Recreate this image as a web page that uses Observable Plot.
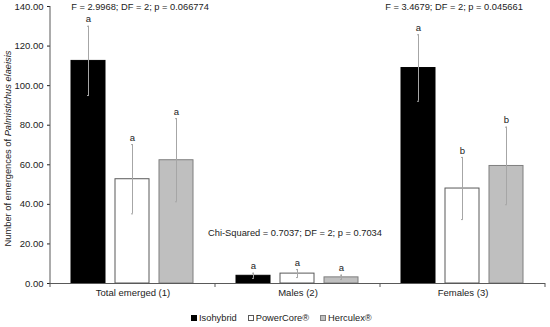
<!DOCTYPE html>
<html>
<head>
<meta charset="utf-8">
<script src="https://cdn.jsdelivr.net/npm/d3@7"></script>
<script src="https://cdn.jsdelivr.net/npm/@observablehq/plot@0.6"></script>
<style>
  body { margin: 0; background: #fff; font-family: "Liberation Sans", Arial, sans-serif; }
  #wrap { position: relative; width: 550px; height: 327px; }
  #legend { position: absolute; left: 191px; top: 313px; font-size: 9.3px; color: #222; display: flex; gap: 11px; align-items: center; }
  #legend span.sw { display: inline-block; width: 4px; height: 4px; border: 1px solid #595959; margin-right: 2px; vertical-align: middle; position: relative; top: -1px; }
</style>
</head>
<body>
<div id="wrap"><div id="chart"></div><div id="legend"></div></div>
<script>
const groups = ["Total emerged (1)", "Males (2)", "Females (3)"];
const varieties = ["Isohybrid", "PowerCore®", "Herculex®"];
const isohybridMean = [112.5, 3.9, 108.9];
const powercoreMean = [52.7, 5.0, 48.0];
const herculexMean = [62.3, 3.1, 59.4];
const isohybridErr = [17.5, 1.3, 16.8];
const powercoreErr = [17.5, 2.0, 15.7];
const herculexErr = [21.0, 1.1, 19.6];
const isohybridLetters = ["a", "a", "a"];
const powercoreLetters = ["a", "a", "b"];
const herculexLetters = ["a", "a", "b"];
const statGroups = ["Total emerged (1)", "Males (2)", "Females (3)"];
const statTexts = ["F = 2.9968; DF = 2; p = 0.066774", "Chi-Squared = 0.7037; DF = 2; p = 0.7034", "F = 3.4679; DF = 2; p = 0.045661"];
const statY = [139.7, 25.4, 139.7];
const statDx = [7.5, -2.5, -8.5];
const yTicks = [0, 20, 40, 60, 80, 100, 120, 140];
const fills = ["#000000", "#ffffff", "#bfbfbf"];
const strokes = ["#000000", "#595959", "#7f7f7f"];

const meansBy = [isohybridMean, powercoreMean, herculexMean];
const errsBy = [isohybridErr, powercoreErr, herculexErr];
const lettersBy = [isohybridLetters, powercoreLetters, herculexLetters];
const data = [];
groups.forEach((g, gi) => varieties.forEach((v, vi) => {
  const m = meansBy[vi][gi], e = errsBy[vi][gi];
  data.push({group: g, variety: v, mean: m, lo: m - e, hi: m + e, letter: lettersBy[vi][gi]});
}));
const stats = statGroups.map((g, i) => ({group: g, text: statTexts[i], y: statY[i], mid: varieties[1]}));

const barMarks = varieties.map((v, vi) => Plot.barY(data.filter(d => d.variety === v), {
  fx: "group", x: "variety", y: "mean", fill: fills[vi], stroke: strokes[vi], strokeWidth: 1
}));
const statMarks = stats.map((s, i) => Plot.text([s], {
  fx: "group", x: "mid", y: "y", text: "text", dx: statDx[i], fontSize: 9.3, fill: "#222"
}));

const plot = Plot.plot({
  width: 550,
  height: 305,
  marginLeft: 50,
  marginRight: 5,
  marginTop: 6,
  marginBottom: 22,
  style: {fontFamily: "'Liberation Sans', Arial, sans-serif", fontSize: "9.5px", color: "#222", background: "#fff"},
  fx: {domain: groups, padding: 0, label: null, tickSize: 0, tickPadding: 6},
  x: {domain: varieties, paddingInner: 0.22, paddingOuter: 0.45, axis: null},
  y: {domain: [0, 140], ticks: yTicks, tickFormat: d3.format(".2f"), tickSize: 3, tickPadding: 4, label: null},
  marks: [
    ...barMarks,
    Plot.ruleX(data, {fx: "group", x: "variety", y1: "lo", y2: "hi", stroke: "#a6a6a6", strokeWidth: 1}),
    Plot.tickY(data, {fx: "group", x: "variety", y: "lo", stroke: "#a6a6a6", insetLeft: 16, insetRight: 16}),
    Plot.tickY(data, {fx: "group", x: "variety", y: "hi", stroke: "#a6a6a6", insetLeft: 16, insetRight: 16}),
    Plot.text(data, {fx: "group", x: "variety", y: "hi", text: "letter", dy: -7, fontSize: 9.5, fill: "#222"}),
    ...statMarks,
    Plot.ruleY([0], {stroke: "#595959"})
  ]
});

document.getElementById("chart").appendChild(plot);
const svg = d3.select(plot);
const fx = plot.scale("fx"), y = plot.scale("y");
const y0 = y.apply(0), yTop = y.apply(140);
const left = fx.apply(groups[0]);
// y axis line
svg.append("line").attr("x1", left).attr("x2", left).attr("y1", yTop).attr("y2", y0 + 4).attr("stroke", "#595959");
// group boundary ticks
groups.forEach(g => {
  const xr = fx.apply(g) + fx.bandwidth;
  svg.append("line").attr("x1", xr).attr("x2", xr).attr("y1", y0).attr("y2", y0 + 4).attr("stroke", "#595959");
});
// y axis label with italic species name
const lab = svg.append("text")
  .attr("transform", `translate(9,${(y0 + yTop) / 2 + 4}) rotate(-90)`)
  .attr("text-anchor", "middle")
  .attr("dominant-baseline", "middle")
  .attr("font-size", 9.3)
  .attr("fill", "#222");
lab.append("tspan").text("Number of emergences of ");
lab.append("tspan").attr("font-style", "italic").text("Palmistichus elaeisis");

// legend
const legend = d3.select("#legend");
varieties.forEach((v, i) => {
  const item = legend.append("div");
  item.append("span").attr("class", "sw").style("background", fills[i]).style("border-color", i === 0 ? "#000" : strokes[i]);
  item.append("span").text(v);
});
</script>
</body>
</html>
